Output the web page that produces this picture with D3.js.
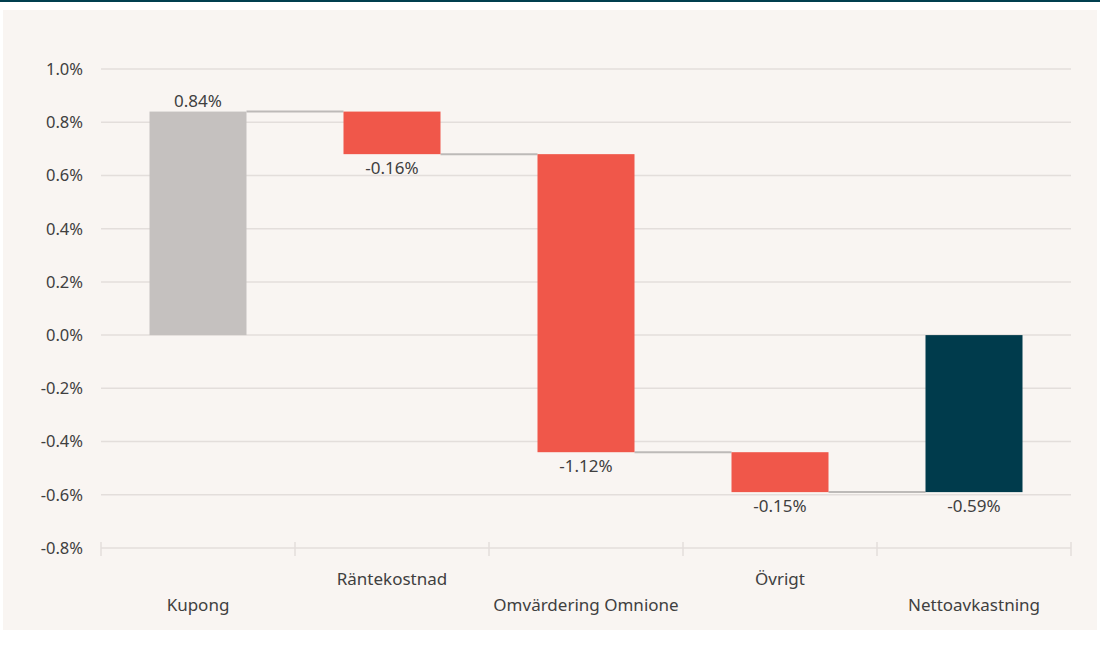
<!DOCTYPE html>
<html><head><meta charset="utf-8">
<script src="https://cdn.jsdelivr.net/npm/d3@7"></script>
<style>
html,body{margin:0;padding:0;background:#fff;}
svg{display:block;font-family:"Segoe UI","Noto Sans","Open Sans",sans-serif;}
</style></head>
<body>
<svg id="c" width="1100" height="648"></svg>
<script>
const categories = ["Kupong","Räntekostnad","Omvärdering Omnione","Övrigt","Nettoavkastning"];
const values = [0.84, -0.16, -1.12, -0.15, -0.59];
const kinds = ["start","delta","delta","delta","total"];
const valueLabels = ["0.84%","-0.16%","-1.12%","-0.15%","-0.59%"];
const yTicks = [1.0,0.8,0.6,0.4,0.2,0.0,-0.2,-0.4,-0.6,-0.8];
const colors = {start:"#c5c1bf", delta:"#f0574a", total:"#003b4c"};

const svg = d3.select("#c");
svg.append("rect").attr("x",0).attr("y",0).attr("width",1100).attr("height",2).attr("fill","#003f4f");
svg.append("rect").attr("x",3).attr("y",10).attr("width",1094).attr("height",620).attr("fill","#f9f5f2");

const x = d3.scaleBand().domain(categories).range([101,1071]).paddingInner(0.5).paddingOuter(0.25);
const y = d3.scaleLinear().domain([-0.8,1.0]).range([548,69]);
const fmt = d => d3.format(".1f")(d).replace("−","-") + "%";

// gridlines
svg.append("g").selectAll("line").data(yTicks.filter(t=>t>-0.8)).join("line")
  .attr("x1",101).attr("x2",1071).attr("y1",d=>y(d)).attr("y2",d=>y(d))
  .attr("stroke","#e3dedb").attr("stroke-width",1.5);

// y labels
svg.append("g").selectAll("text").data(yTicks).join("text")
  .attr("x",83).attr("y",d=>y(d)).attr("dy","0.36em").attr("text-anchor","end")
  .attr("fill","#404040").attr("font-size",16.5).text(fmt);

// waterfall geometry
let run = 0;
const bars = categories.map((c,i)=>{
  let y0,y1;
  if(kinds[i]==="start"){y0=0;y1=values[i];run=values[i];}
  else if(kinds[i]==="total"){y0=0;y1=values[i];}
  else {y0=run;y1=run+values[i];run=y1;}
  return {c,i,y0,y1,v:values[i],kind:kinds[i]};
});

// connectors
svg.append("g").selectAll("line").data(bars.slice(0,-1)).join("line")
  .attr("x1",d=>x(d.c)+x.bandwidth()).attr("x2",d=>x(categories[d.i+1]))
  .attr("y1",d=>y(d.y1)).attr("y2",d=>y(d.y1))
  .attr("stroke","#bdbab8").attr("stroke-width",2);

// bars
svg.append("g").selectAll("rect").data(bars).join("rect")
  .attr("x",d=>x(d.c)).attr("width",x.bandwidth())
  .attr("y",d=>y(Math.max(d.y0,d.y1))).attr("height",d=>Math.abs(y(d.y0)-y(d.y1)))
  .attr("fill",d=>colors[d.kind]);

// value labels
svg.append("g").selectAll("text").data(bars).join("text")
  .attr("x",d=>x(d.c)+x.bandwidth()/2)
  .attr("y",d=>d.v>=0? y(Math.max(d.y0,d.y1))-5 : y(Math.min(d.y0,d.y1))+20)
  .attr("text-anchor","middle").attr("fill","#404040").attr("font-size",17)
  .text((d,i)=>valueLabels[i]);

// x axis baseline + ticks
const ax = svg.append("g");
ax.append("line").attr("x1",101).attr("x2",1071).attr("y1",y(-0.8)).attr("y2",y(-0.8))
  .attr("stroke","#e3dedb").attr("stroke-width",1.5);
const bounds = categories.map(c=>x(c)-x.step()*0.25).concat([1071]);
ax.selectAll("line.t").data(bounds).join("line").attr("class","t")
  .attr("x1",d=>d).attr("x2",d=>d).attr("y1",y(-0.8)-6).attr("y2",y(-0.8)+8)
  .attr("stroke","#e3dedb").attr("stroke-width",1.5);
ax.selectAll("text").data(categories).join("text")
  .attr("x",d=>x(d)+x.bandwidth()/2).attr("y",(d,i)=>i%2===0?611:585)
  .attr("text-anchor","middle").attr("fill","#404040").attr("font-size",17).text(d=>d);
</script>
</body></html>
